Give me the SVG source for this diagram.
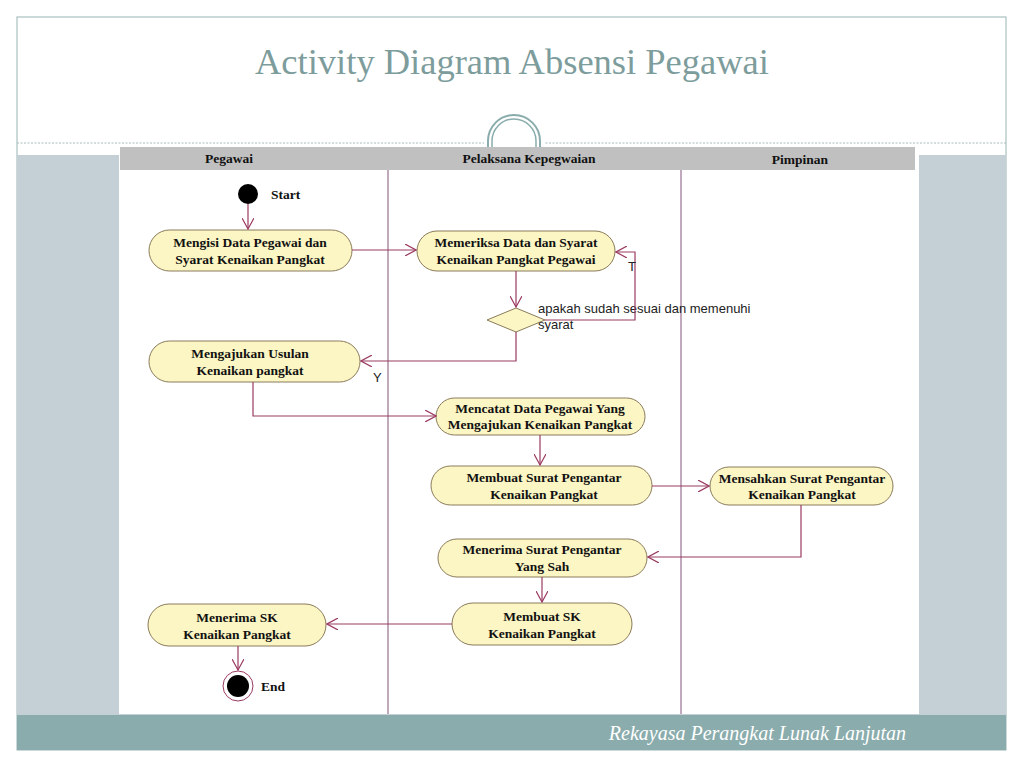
<svg xmlns="http://www.w3.org/2000/svg" width="1024" height="768" viewBox="0 0 1024 768">
<defs>
<style>
.node rect{fill:#fcf6c4;stroke:#8a7a5a;stroke-width:1}
.node text,.lane{font-family:"Liberation Serif",serif;font-weight:bold;font-size:13.5px;fill:#111;text-anchor:middle}
.lane{font-size:13.5px}
.conn{fill:none;stroke:#9a3a60;stroke-width:1.2}
.lbl{font-family:"Liberation Sans",sans-serif;font-size:13px;fill:#222}
</style>
<marker id="arr" viewBox="0 0 12 12" refX="11" refY="6" markerWidth="12" markerHeight="12" markerUnits="userSpaceOnUse" orient="auto">
<path d="M0,0 L11,6 L0,12" fill="none" stroke="#9a3a60" stroke-width="1.2"/>
</marker>
</defs>
<rect width="1024" height="768" fill="#fff"/>
<rect x="17" y="17" width="989" height="733" fill="#fff" stroke="#9ab4b4" stroke-width="1"/>
<text x="512" y="74" font-family="Liberation Serif,serif" font-size="36.5" fill="#7d9c9c" text-anchor="middle">Activity Diagram Absensi Pegawai</text>
<line x1="17" y1="143" x2="1006" y2="143" stroke="#a8bcbc" stroke-width="1.2" stroke-dasharray="2,1.5"/>
<rect x="484" y="136" width="60" height="12" fill="#fff"/>
<path d="M488,148 V141 A26,26 0 0 1 540,141 V148" fill="none" stroke="#8aacac" stroke-width="2"/>
<path d="M492,148 V141 A22,22 0 0 1 536,141 V148" fill="none" stroke="#8aacac" stroke-width="1.5"/>
<rect x="17" y="155" width="989" height="560" fill="#c5d0d6"/>
<rect x="119" y="147" width="800" height="567" fill="#fff"/>
<rect x="120" y="147" width="795" height="23" fill="#c0c0c0"/>
<text class="lane" x="229" y="163">Pegawai</text>
<text class="lane" x="529" y="163">Pelaksana Kepegwaian</text>
<text class="lane" x="800" y="164">Pimpinan</text>
<line x1="388" y1="170" x2="388" y2="714" stroke="#a07a98" stroke-width="1.3"/>
<line x1="681" y1="170" x2="681" y2="714" stroke="#a07a98" stroke-width="1.3"/>
<rect x="17" y="715" width="989" height="35" fill="#8aacac"/>
<text x="906" y="740" font-family="Liberation Serif,serif" font-style="italic" font-size="20" fill="#fff" text-anchor="end">Rekayasa Perangkat Lunak Lanjutan</text>

<g id="start">
<circle cx="248" cy="194" r="10" fill="#000"/>
<text x="271" y="199" font-family="Liberation Serif,serif" font-weight="bold" font-size="13.5" fill="#111">Start</text>
</g>
<g id="n1" class="node">
<rect x="149" y="230" width="203" height="41" rx="20.5"/>
<text x="250" y="247">Mengisi Data Pegawai dan</text>
<text x="250" y="264">Syarat Kenaikan Pangkat</text>
</g>
<g id="n2" class="node">
<rect x="417" y="231" width="198" height="40" rx="20"/>
<text x="516" y="247">Memeriksa Data dan Syarat</text>
<text x="516" y="264">Kenaikan Pangkat Pegawai</text>
</g>
<g id="decision">
<polygon points="516,308 545,320 516,332 487,320" fill="#fcf6c4" stroke="#8a7a5a" stroke-width="1"/>
<text class="lbl" x="538" y="313">apakah sudah sesuai dan memenuhi</text>
<text class="lbl" x="538" y="329">syarat</text>
</g>
<g id="n3" class="node">
<rect x="149" y="341" width="211" height="41" rx="20.5"/>
<text x="250" y="358">Mengajukan Usulan</text>
<text x="250" y="375">Kenaikan pangkat</text>
</g>
<g id="n4" class="node">
<rect x="436" y="398" width="209" height="37" rx="18.5"/>
<text x="540" y="413">Mencatat Data Pegawai Yang</text>
<text x="540" y="429">Mengajukan Kenaikan Pangkat</text>
</g>
<g id="n5" class="node">
<rect x="431" y="466" width="221" height="39" rx="19.5"/>
<text x="544" y="482">Membuat Surat Pengantar</text>
<text x="544" y="499">Kenaikan Pangkat</text>
</g>
<g id="n6" class="node">
<rect x="710" y="467" width="183" height="38" rx="19"/>
<text x="802" y="483">Mensahkan Surat Pengantar</text>
<text x="802" y="499">Kenaikan Pangkat</text>
</g>
<g id="n7" class="node">
<rect x="438" y="539" width="209" height="38" rx="19"/>
<text x="542" y="554">Menerima Surat Pengantar</text>
<text x="542" y="571">Yang Sah</text>
</g>
<g id="n8" class="node">
<rect x="452" y="603" width="180" height="42" rx="21"/>
<text x="542" y="621">Membuat SK</text>
<text x="542" y="638">Kenaikan Pangkat</text>
</g>
<g id="n9" class="node">
<rect x="148" y="604" width="178" height="42" rx="21"/>
<text x="237" y="622">Menerima SK</text>
<text x="237" y="639">Kenaikan Pangkat</text>
</g>
<g id="end">
<circle cx="238" cy="686" r="15" fill="#fff" stroke="#9a3a60" stroke-width="1"/>
<circle cx="238" cy="686" r="11" fill="#000"/>
<text x="261" y="691" font-family="Liberation Serif,serif" font-weight="bold" font-size="13.5" fill="#111">End</text>
</g>

<g id="connectors" class="conn">
<path class="conn" d="M248,204 V229" marker-end="url(#arr)"/>
<path class="conn" d="M352,250 H416" marker-end="url(#arr)"/>
<path class="conn" d="M516,271 V307" marker-end="url(#arr)"/>
<path class="conn" d="M545,320 H635 V252 H616" marker-end="url(#arr)"/>
<path class="conn" d="M516,332 V361 H361" marker-end="url(#arr)"/>
<path class="conn" d="M253,382 V416 H436" marker-end="url(#arr)"/>
<path class="conn" d="M540,435 V465" marker-end="url(#arr)"/>
<path class="conn" d="M652,486 H709" marker-end="url(#arr)"/>
<path class="conn" d="M801,505 V557 H648" marker-end="url(#arr)"/>
<path class="conn" d="M542,577 V602" marker-end="url(#arr)"/>
<path class="conn" d="M452,624 H327" marker-end="url(#arr)"/>
<path class="conn" d="M238,646 V670" marker-end="url(#arr)"/>
</g>
<text class="lbl" x="628" y="271">T</text>
<text class="lbl" x="373" y="382">Y</text>
</svg>
